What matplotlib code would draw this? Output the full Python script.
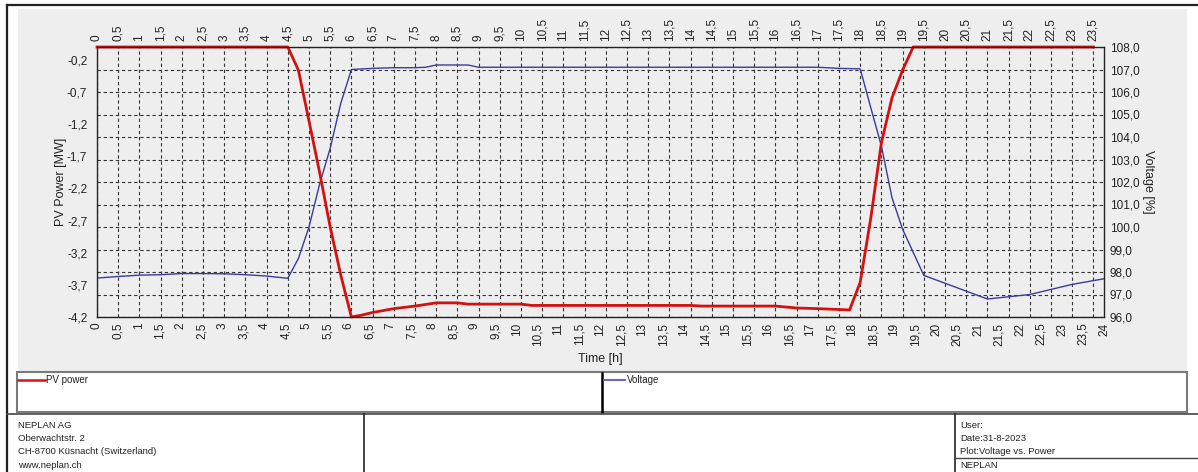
import numpy as np
import matplotlib
matplotlib.use("Agg")
import matplotlib.pyplot as plt
from matplotlib.patches import Rectangle
from matplotlib.lines import Line2D

plt.rcParams['font.family'] = ['Liberation Sans', 'DejaVu Sans']

# PV power [MW] (red, left axis)
hours_pv = [0, 4.5, 4.75, 5.0, 5.25, 5.5, 5.75, 6.0, 6.25, 6.5, 6.75, 7.0, 7.5,
            8.0, 8.5, 8.75, 10.0, 10.25, 14.0, 14.25, 16.0, 16.5, 17.0, 17.75,
            18.0, 18.25, 18.5, 18.75, 19.0, 19.25, 23.5]
pv_power = [0, 0, -0.36, -1.15, -1.95, -2.8, -3.55, -4.2, -4.17, -4.13, -4.1, -4.07, -4.03,
            -3.98, -3.98, -4.0, -4.0, -4.02, -4.02, -4.03, -4.03, -4.06, -4.07, -4.09,
            -3.66, -2.66, -1.49, -0.79, -0.36, 0, 0]

# Voltage [%] (blue, right axis)
hours_v = [0, 0.5, 1, 1.5, 2, 2.5, 3, 3.5, 4, 4.5, 4.75, 5.0, 5.25, 5.5, 5.75, 6.0,
           6.5, 7.0, 7.5, 7.75, 8.0, 8.75, 9.0, 12.0, 17.0, 17.5, 18.0, 18.25, 18.5,
           18.75, 19.0, 19.5, 21.0, 22.0, 23.0, 23.75]
voltage = [97.73, 97.8, 97.86, 97.88, 97.93, 97.93, 97.92, 97.88, 97.82, 97.72, 98.6,
           100.0, 101.9, 103.5, 105.5, 107.0, 107.05, 107.08, 107.08, 107.1, 107.2,
           107.2, 107.1, 107.1, 107.1, 107.05, 107.03, 105.3, 103.6, 101.3, 99.9,
           97.85, 96.8, 97.0, 97.45, 97.7]

pv_ticks = [-0.2, -0.7, -1.2, -1.7, -2.2, -2.7, -3.2, -3.7, -4.2]
v_ticks = np.arange(96, 109, 1)
top_ticks = np.arange(0, 24, 0.5)       # real time positions
bottom_labels = np.arange(0, 24.5, 0.5)  # NEPLAN spreads 0..24 over the axis

W, H = 1198, 472
XMAX = 23.75


def fx(px):
    return px / W


def fy(py):
    return 1 - py / H


def num(v, dec=None):
    if dec is not None:
        return f"{v:.{dec}f}".replace('.', ',')
    if float(v).is_integer():
        return str(int(v))
    return f"{v:g}".replace('.', ',')


fig = plt.figure(figsize=(W / 100, H / 100), dpi=100)
fig.patch.set_facecolor('white')

# panels / frames
fig.add_artist(Rectangle((fx(18), fy(372)), fx(1187 - 18), (372 - 9) / H,
                         transform=fig.transFigure, facecolor='#eeeeee', edgecolor='none', zorder=0))
fig.add_artist(Line2D([fx(7), 1], [fy(5), fy(5)], transform=fig.transFigure, color='#222222', lw=1.6))
fig.add_artist(Line2D([fx(7), fx(7)], [fy(5), 0], transform=fig.transFigure, color='#222222', lw=1.6))

# legend box
fig.add_artist(Rectangle((fx(17), fy(412)), fx(1187 - 17), (412 - 372) / H,
                         transform=fig.transFigure, facecolor='white', edgecolor='#7a7a7a', lw=1.5, zorder=1))
fig.add_artist(Line2D([fx(602), fx(602)], [fy(373), fy(412)], transform=fig.transFigure, color='black', lw=1.8))
fig.add_artist(Line2D([fx(18), fx(45)], [fy(380), fy(380)], transform=fig.transFigure, color='#e01010', lw=1.8))
fig.text(fx(46), fy(380), 'PV power', fontsize=7, va='center', ha='left', color='#222222')
fig.add_artist(Line2D([fx(604), fx(625)], [fy(380), fy(380)], transform=fig.transFigure, color='#6a6ab0', lw=1.5))
fig.text(fx(627), fy(380), 'Voltage', fontsize=7, va='center', ha='left', color='#222222')

# footer
fig.add_artist(Line2D([fx(7), 1], [fy(414), fy(414)], transform=fig.transFigure, color='#444444', lw=1.2))
fig.add_artist(Line2D([fx(364), fx(364)], [fy(414), 0], transform=fig.transFigure, color='#222222', lw=1.2))
fig.add_artist(Line2D([fx(955), fx(955)], [fy(414), 0], transform=fig.transFigure, color='#222222', lw=1.2))
fig.add_artist(Line2D([fx(955), 1], [fy(458), fy(458)], transform=fig.transFigure, color='#444444', lw=1.0))
for i, t in enumerate(['NEPLAN AG', 'Oberwachtstr. 2', 'CH-8700 Küsnacht (Switzerland)', 'www.neplan.ch']):
    fig.text(fx(18), fy(425 + i * 13.5), t, fontsize=6.8, va='center', ha='left', color='#222222')
for i, t in enumerate(['User:', 'Date:31-8-2023', 'Plot:Voltage vs. Power', 'NEPLAN']):
    fig.text(fx(960), fy(425 + i * 13.5), t, fontsize=6.8, va='center', ha='left', color='#222222')

rect = [fx(97), fy(317), fx(1104 - 97), (317 - 47) / H]

# voltage axes (bottom layer, holds the grid)
axv = fig.add_axes(rect)
axv.set_facecolor('#eeeeee')
axv.set_xlim(0, XMAX)
axv.set_ylim(96, 108)
axv.set_xticks(top_ticks)
axv.set_xticklabels([num(t) for t in top_ticks], rotation=90)
axv.xaxis.tick_top()
axv.yaxis.tick_right()
axv.set_yticks(v_ticks)
axv.set_yticklabels([num(v, 1) for v in v_ticks])
axv.tick_params(length=0, labelsize=8.5, labelcolor='#222222')
axv.tick_params(axis='x', pad=4)
axv.tick_params(axis='y', pad=4)
axv.grid(True, color='#333333', linestyle=(0, (3, 2.5)), lw=0.8)
axv.set_axisbelow(True)
axv.plot(hours_v, voltage, color='#3a3aa0', lw=1.0)
axv.yaxis.set_label_position('right')
axv.set_ylabel('Voltage [%]', rotation=-90, fontsize=9, color='#222222', va='center')
axv.yaxis.set_label_coords(1.044, 0.5)
for s in axv.spines.values():
    s.set_visible(False)

# PV power axes (top layer)
axp = fig.add_axes(rect)
axp.patch.set_visible(False)
axp.set_xlim(0, XMAX)
axp.set_ylim(-4.2, 0)
axp.set_yticks(pv_ticks)
axp.set_yticklabels([num(v, 1) for v in pv_ticks])
axp.set_xticks(np.linspace(0, XMAX, len(bottom_labels)))
axp.set_xticklabels([num(t) for t in bottom_labels], rotation=90)
axp.tick_params(length=0, labelsize=8.5, labelcolor='#222222')
axp.tick_params(axis='x', pad=4)
axp.tick_params(axis='y', pad=7)
axp.plot(hours_pv, pv_power, color='#d41010', lw=2.0, clip_on=False)
axp.set_ylabel('PV Power [MW]', fontsize=9, color='#222222', va='center')
axp.yaxis.set_label_coords(-0.036, 0.5)
axp.set_xlabel('Time [h]', fontsize=9, color='#222222')
axp.xaxis.set_label_coords(0.4995, -0.135)
for s in axp.spines.values():
    s.set_color('#222222')
    s.set_linewidth(1.0)

fig.savefig('out.png', dpi=100)
